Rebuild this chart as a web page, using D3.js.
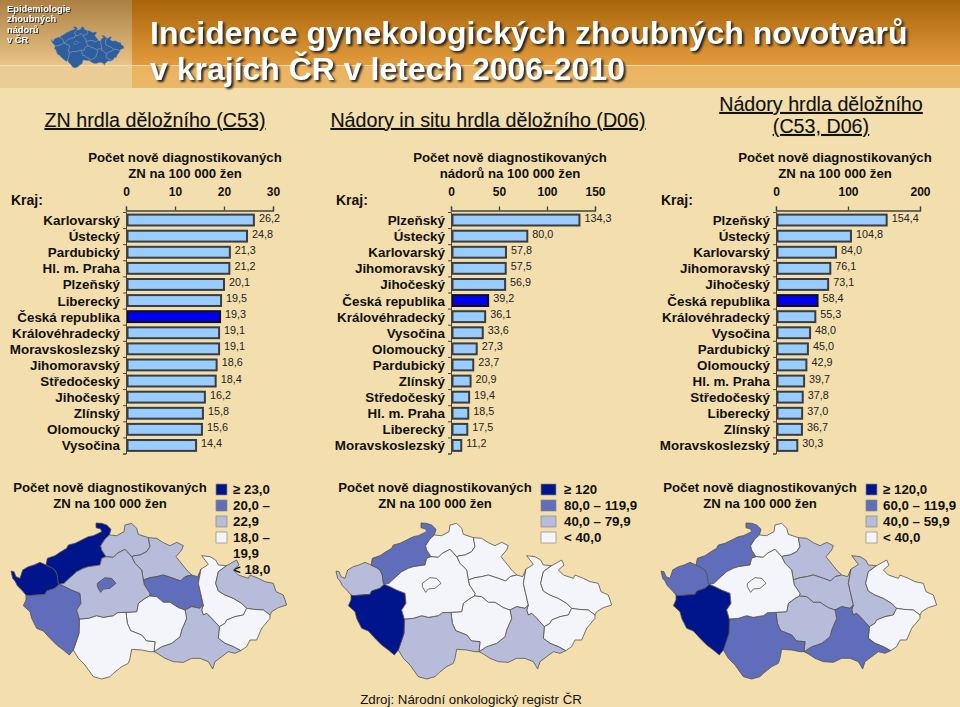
<!DOCTYPE html>
<html lang="cs"><head><meta charset="utf-8">
<style>html,body{margin:0;padding:0;background:#f3dfae}svg{display:block}text{font-family:"Liberation Sans",Arial,sans-serif;fill:#111}</style>
<script src="https://cdn.jsdelivr.net/npm/d3@7/dist/d3.min.js"></script>
</head><body><svg id="c" width="960" height="707"></svg>
<script>
// ---------- data ----------
const titleLines = ["Incidence gynekologických zhoubných novotvarů", "v krajích ČR v letech 2006-2010"];
const logoLines = ["Epidemiologie", "zhoubných", "nádorů", "v ČR"];
const regionsA = ["Karlovarský","Ústecký","Pardubický","Hl. m. Praha","Plzeňský","Liberecký","Česká republika","Královéhradecký","Moravskoslezský","Jihomoravský","Středočeský","Jihočeský","Zlínský","Olomoucký","Vysočina"];
const valuesA = [26.2,24.8,21.3,21.2,20.1,19.5,19.3,19.1,19.1,18.6,18.4,16.2,15.8,15.6,14.4];
const regionsB = ["Plzeňský","Ústecký","Karlovarský","Jihomoravský","Jihočeský","Česká republika","Královéhradecký","Vysočina","Olomoucký","Pardubický","Zlínský","Středočeský","Hl. m. Praha","Liberecký","Moravskoslezský"];
const valuesB = [134.3,80.0,57.8,57.5,56.9,39.2,36.1,33.6,27.3,23.7,20.9,19.4,18.5,17.5,11.2];
const regionsC = ["Plzeňský","Ústecký","Karlovarský","Jihomoravský","Jihočeský","Česká republika","Královéhradecký","Vysočina","Pardubický","Olomoucký","Hl. m. Praha","Středočeský","Liberecký","Zlínský","Moravskoslezský"];
const valuesC = [154.4,104.8,84.0,76.1,73.1,58.4,55.3,48.0,45.0,42.9,39.7,37.8,37.0,36.7,30.3];
const ticksA = [0,10,20,30], ticksB = [0,50,100,150], ticksC = [0,100,200];
const thresholdsA = [18,20,23], thresholdsB = [40,80,120], thresholdsC = [40,60,120];
const legendA = ["≥ 23,0","20,0 –","22,9","18,0 –","19,9","< 18,0"];
const legendB = ["≥ 120","80,0 – 119,9","40,0 – 79,9","< 40,0"];
const legendC = ["≥ 120,0","60,0 – 119,9","40,0 – 59,9","< 40,0"];
const classColors = ["#f4f5fb","#b7bcdb","#5f6dbb","#00148c"];
// map geometry: border chains (units of the traced crop), shared between neighbours
const borders = {
KV_top:[[33,303],[42,305],[48,320],[60,325],[68,300],[85,290],[102,285],[120,277],[138,285]],
KV_UL:[[138,285],[155,293],[165,300],[172,315],[175,340],[178,343]],
KV_PL:[[178,343],[165,355],[140,363],[135,373],[110,375],[85,377],[78,375]],
KV_SW:[[78,375],[65,360],[52,347],[45,333],[38,325],[33,303]],
UL_top:[[138,285],[142,265],[165,257],[180,247],[200,235],[205,225],[225,220],[245,210],[265,200],[280,197],[305,185],[302,177],[288,173],[288,159],[305,160],[320,165],[333,178],[328,195]],
UL_LI:[[328,195],[315,207],[302,227],[305,240],[318,260]],
UL_ST:[[318,260],[305,265],[300,285],[265,290],[250,295],[230,305],[210,323],[192,340],[178,343]],
LI_top:[[328,195],[350,197],[372,185],[375,165],[395,160],[410,175],[415,193],[445,203]],
LI_KH:[[445,203],[450,230],[440,245],[420,255],[405,257],[395,260]],
LI_ST:[[318,260],[340,262],[352,250],[375,238],[395,260]],
KH_top:[[445,203],[470,205],[490,218],[510,227],[530,217],[550,227],[545,240],[528,260],[540,275],[560,300],[575,315]],
KH_PA:[[575,315],[555,320],[542,333],[520,325],[490,315],[470,320],[450,323],[430,330]],
KH_ST:[[395,260],[405,280],[425,300],[430,330]],
PA_gap:[[575,315],[593,320],[603,297]],
PA_OL:[[603,297],[595,340],[602,370],[610,405]],
PA_ST:[[430,330],[433,345],[450,370],[448,378]],
PA_VY:[[448,378],[470,380],[490,397],[510,397],[535,413],[555,420]],
PA_JM:[[555,420],[575,410],[600,415],[610,405]],
OL_top:[[603,297],[615,290],[625,283],[605,257],[630,260],[647,270],[655,285],[680,287]],
OL_MS:[[680,287],[655,305],[647,340],[655,363],[675,375],[700,385],[725,400],[740,415]],
MS_top:[[680,287],[710,270],[717,285],[700,300],[715,315],[745,325],[750,315],[775,325],[795,335],[820,340],[828,365],[850,375],[860,405],[835,413],[815,425],[810,435]],
MS_ZL:[[740,415],[760,418],[790,420],[810,435]],
OL_ZL:[[740,415],[730,435],[705,440],[680,450],[675,460],[658,470]],
OL_JM:[[610,405],[605,420],[610,435],[620,430],[635,445],[658,470]],
JM_ZL:[[658,470],[655,505],[675,520],[700,530],[722,542]],
ZL_out:[[810,435],[810,445],[785,475],[770,510],[750,510],[740,530],[722,542]],
JM_out:[[722,542],[705,550],[685,545],[665,560],[645,575],[638,597],[625,575],[600,565],[575,565],[550,577],[520,575],[495,565],[475,552],[462,545]],
JM_VY:[[555,420],[560,445],[545,480],[540,500],[515,520],[485,530],[462,545]],
VY_JC:[[378,427],[382,460],[392,482],[425,495],[440,513],[465,515],[462,545]],
VY_ST:[[448,378],[435,385],[415,400],[410,425],[378,427]],
JC_out:[[462,545],[450,545],[425,540],[395,538],[390,565],[385,580],[365,590],[340,610],[330,620],[305,627],[280,620],[255,585],[235,565],[220,540]],
JC_PL:[[220,540],[237,490],[238,450],[238,447]],
JC_ST:[[238,447],[265,445],[290,437],[310,442],[340,437],[352,428],[378,427]],
PL_ST:[[178,343],[195,350],[215,360],[240,370],[243,400],[230,420],[238,447]],
PL_out:[[220,540],[208,555],[190,540],[170,525],[150,505],[130,483],[110,475],[95,445],[90,425],[70,407],[78,390],[78,375]],
PH:[[292,340],[305,330],[315,323],[335,325],[348,340],[330,355],[310,357],[302,367],[292,350]]
};
const regionRings = {
"Karlovarský":["KV_top","KV_UL","KV_PL","KV_SW"],
"Ústecký":["UL_top","UL_LI","UL_ST","-KV_UL"],
"Liberecký":["LI_top","LI_KH","-LI_ST","-UL_LI"],
"Královéhradecký":["KH_top","KH_PA","-KH_ST","-LI_KH"],
"Pardubický":["PA_gap","PA_OL","-PA_JM","-PA_VY","-PA_ST","-KH_PA"],
"Olomoucký":["OL_top","OL_MS","OL_ZL","-OL_JM","-PA_OL"],
"Moravskoslezský":["MS_top","-MS_ZL","-OL_MS"],
"Zlínský":["MS_ZL","ZL_out","-JM_ZL","-OL_ZL"],
"Jihomoravský":["PA_JM","OL_JM","JM_ZL","JM_out","-JM_VY"],
"Vysočina":["PA_VY","JM_VY","-VY_JC","-VY_ST"],
"Jihočeský":["JC_ST","VY_JC","JC_out","JC_PL"],
"Plzeňský":["PL_ST","-JC_PL","PL_out","-KV_PL"],
"Středočeský":["LI_ST","KH_ST","PA_ST","VY_ST","-JC_ST","-PL_ST","-UL_ST"],
"Hl. m. Praha":["PH"]
};
const outlines = Object.fromEntries(Object.entries(regionRings).map(([n,parts])=>[n,parts.flatMap(p=>p[0]==="-"?borders[p.slice(1)].slice().reverse():borders[p])]));
// ---------- drawing ----------
const svg = d3.select("#c");
const defs = svg.append("defs");
const grad = (id, stops) => { const g = defs.append("linearGradient").attr("id",id).attr("x1",0).attr("x2",0).attr("y1",0).attr("y2",1);
  stops.forEach(([o,c])=>g.append("stop").attr("offset",o).attr("stop-color",c)); };
grad("hdr",[[0,"#a9650a"],[1,"#e39b3c"]]);
grad("hdr2",[[0,"#ecb35f"],[1,"#eab869"]]);
grad("logo",[[0,"#ac7f42"],[1,"#e8c488"]]);
svg.append("rect").attr("width",960).attr("height",707).attr("fill","#f3dfae");
svg.append("rect").attr("x",132).attr("width",828).attr("height",65).attr("fill","url(#hdr)");
svg.append("rect").attr("x",132).attr("y",66).attr("width",828).attr("height",22).attr("fill","url(#hdr2)");
svg.append("rect").attr("width",132).attr("height",65).attr("fill","url(#logo)");
svg.append("rect").attr("y",66).attr("width",132).attr("height",22).attr("fill","#e9cd94");
svg.append("rect").attr("y",65).attr("width",960).attr("height",1).attr("fill","#f6ddae");

function drawMap(g, k, strokeColor, sw, fillOf){
  const sx = d3.scaleLinear().domain([0,960]).range([0,960*k]);
  const sy = d3.scaleLinear().domain([0,960]).range([0,960*k]);
  const l = d3.line().curve(d3.curveLinearClosed).x(d=>sx(d[0])).y(d=>sy(d[1]));
  g.selectAll("path").data(Object.keys(outlines)).join("path")
    .attr("d",n=>l(outlines[n])).attr("fill",fillOf).attr("stroke",strokeColor).attr("stroke-width",sw).attr("stroke-linejoin","round");
}
// logo
drawMap(svg.append("g").attr("transform","translate(48,12.5)"),0.0885,"#7f93b5",0.5,()=>"#2d5f9f");
svg.append("g").selectAll("text").data(logoLines).join("text")
  .attr("x",7).attr("y",(d,i)=>12+i*10.3).attr("font-size",9.3).attr("font-weight","bold")
  .style("fill","#fff").style("filter","drop-shadow(1px 1px 0.5px #333)").text(d=>d);
// title
svg.append("g").selectAll("text").data(titleLines).join("text")
  .attr("x",150).attr("y",(d,i)=>44+i*35.5).attr("font-size",32).attr("font-weight","bold")
  .style("fill","#fff").style("filter","drop-shadow(2px 2px 1px #222)").text(d=>d);

const panels = [
 {title:["ZN hrdla děložního (C53)"],ty:[127],tc:155,hc:185,head:"ZN na 100 000 žen",kx:11,x0:126,x1:273,domain:30,names:regionsA,vals:valuesA,ticks:ticksA,th:thresholdsA,legend:legendA,dx:0,sw:11,lx:216,ltx:233,lc:110,lstep:16},
 {title:["Nádory in situ hrdla děložního (D06)"],ty:[127],tc:488,hc:510,head:"nádorů na 100 000 žen",kx:336,x0:451,x1:595,domain:150,names:regionsB,vals:valuesB,ticks:ticksB,th:thresholdsB,legend:legendB,dx:325,sw:15,lx:541,ltx:564,lc:435,lstep:16},
 {title:["Nádory hrdla děložního","(C53, D06)"],ty:[111,133],tc:821,hc:835,head:"ZN na 100 000 žen",kx:661,x0:776,x1:920,domain:200,names:regionsC,vals:valuesC,ticks:ticksC,th:thresholdsC,legend:legendC,dx:650,sw:11,lx:866,ltx:883,lc:760,lstep:16}
];
const rowTop = 212, rowBottom = 453.5;
panels.forEach(p=>{
  const g = svg.append("g");
  g.selectAll("text.t").data(p.title).join("text").attr("class","t")
    .attr("x",p.tc).attr("y",(d,i)=>p.ty[i]).attr("text-anchor","middle").attr("font-size",19.7).attr("text-decoration","underline")
    .style("stroke","#111").style("stroke-width",.12).text(d=>d);
  g.selectAll("text.h").data(["Počet nově diagnostikovaných",p.head]).join("text").attr("class","h")
    .attr("x",p.hc).attr("y",(d,i)=>162+i*16).attr("text-anchor","middle").attr("font-size",13.2).attr("font-weight","bold").text(d=>d);
  g.append("text").attr("x",p.kx).attr("y",205).attr("font-size",14).attr("font-weight","bold").text("Kraj:");
  const x = d3.scaleLinear().domain([0,p.domain]).range([p.x0,p.x1]);
  const y = d3.scaleBand().domain(p.names).range([rowTop,rowBottom]).paddingInner(0.2).paddingOuter(0.1);
  const yTicks = d3.scaleLinear().domain([0,p.names.length]).range([rowTop,rowBottom]);
  const axT = g.append("g").attr("transform","translate(0,210.5)").call(d3.axisTop(x).tickValues(p.ticks).tickSize(4).tickSizeOuter(4).tickPadding(11));
  axT.selectAll("text").attr("font-size",12).attr("font-weight","bold").attr("font-family",null).style("fill","#111");
  axT.selectAll("line,path").attr("stroke","#444").attr("stroke-width",1.3);
  const bw = y.bandwidth();
  g.selectAll("rect.b").data(p.names).join("rect").attr("class","b")
    .attr("x",x(0)+1.5).attr("y",d=>y(d)+1).attr("height",bw-2)
    .attr("width",(d,i)=>x(p.vals[i])-x(0)-2).attr("fill",d=>d==="Česká republika"?"#0000f0":"#99ccff")
    .attr("stroke",d=>d==="Česká republika"?"#111":"#3c3c3c").attr("stroke-width",2);
  const axL = g.append("g").attr("transform",`translate(${p.x0},0)`).call(d3.axisLeft(yTicks).tickValues(d3.range(p.names.length+1)).tickFormat("").tickSize(3).tickSizeOuter(3));
  axL.selectAll("line,path").attr("stroke","#444").attr("stroke-width",1);
  g.selectAll("text.c").data(p.names).join("text").attr("class","c")
    .attr("x",p.x0-6).attr("y",d=>y(d)+bw/2+5).attr("text-anchor","end").attr("font-size",13.4).attr("font-weight","bold").text(d=>d);
  g.selectAll("text.v").data(p.vals).join("text").attr("class","v")
    .attr("x",d=>x(d)+4.5).attr("y",(d,i)=>y(p.names[i])+bw/2+1.5).attr("font-size",10.8).style("fill","#222")
    .text(d=>d3.format(".1f")(d).replace(".",","));
  // legend + map
  g.selectAll("text.lt").data(["Počet nově diagnostikovaných","ZN na 100 000 žen"]).join("text").attr("class","lt")
    .attr("x",p.lc).attr("y",(d,i)=>492+i*16).attr("text-anchor","middle").attr("font-size",13.2).attr("font-weight","bold").text(d=>d);
  const legendColors = classColors.slice().reverse();
  g.selectAll("rect.l").data(legendColors).join("rect").attr("class","l")
    .attr("x",p.lx).attr("y",(d,i)=>484+i*p.lstep).attr("width",p.sw).attr("height",11).attr("fill",d=>d).attr("stroke","#8a8a78").attr("stroke-width",.7);
  g.selectAll("text.li").data(p.legend).join("text").attr("class","li")
    .attr("x",p.ltx).attr("y",(d,i)=>494+i*15.9).attr("font-size",13.3).attr("font-weight","bold").text(d=>d);
  const cls = d3.scaleThreshold().domain(p.th).range(classColors);
  const valOf = new Map(p.names.map((n,i)=>[n,p.vals[i]]));
  drawMap(g.append("g").attr("transform",`translate(${p.dx},470)`),1/3,"#55524a",.8,n=>cls(valOf.get(n)));
});
svg.append("text").attr("x",471).attr("y",704).attr("text-anchor","middle").attr("font-size",13.3).text("Zdroj: Národní onkologický registr ČR");
</script></body></html>
